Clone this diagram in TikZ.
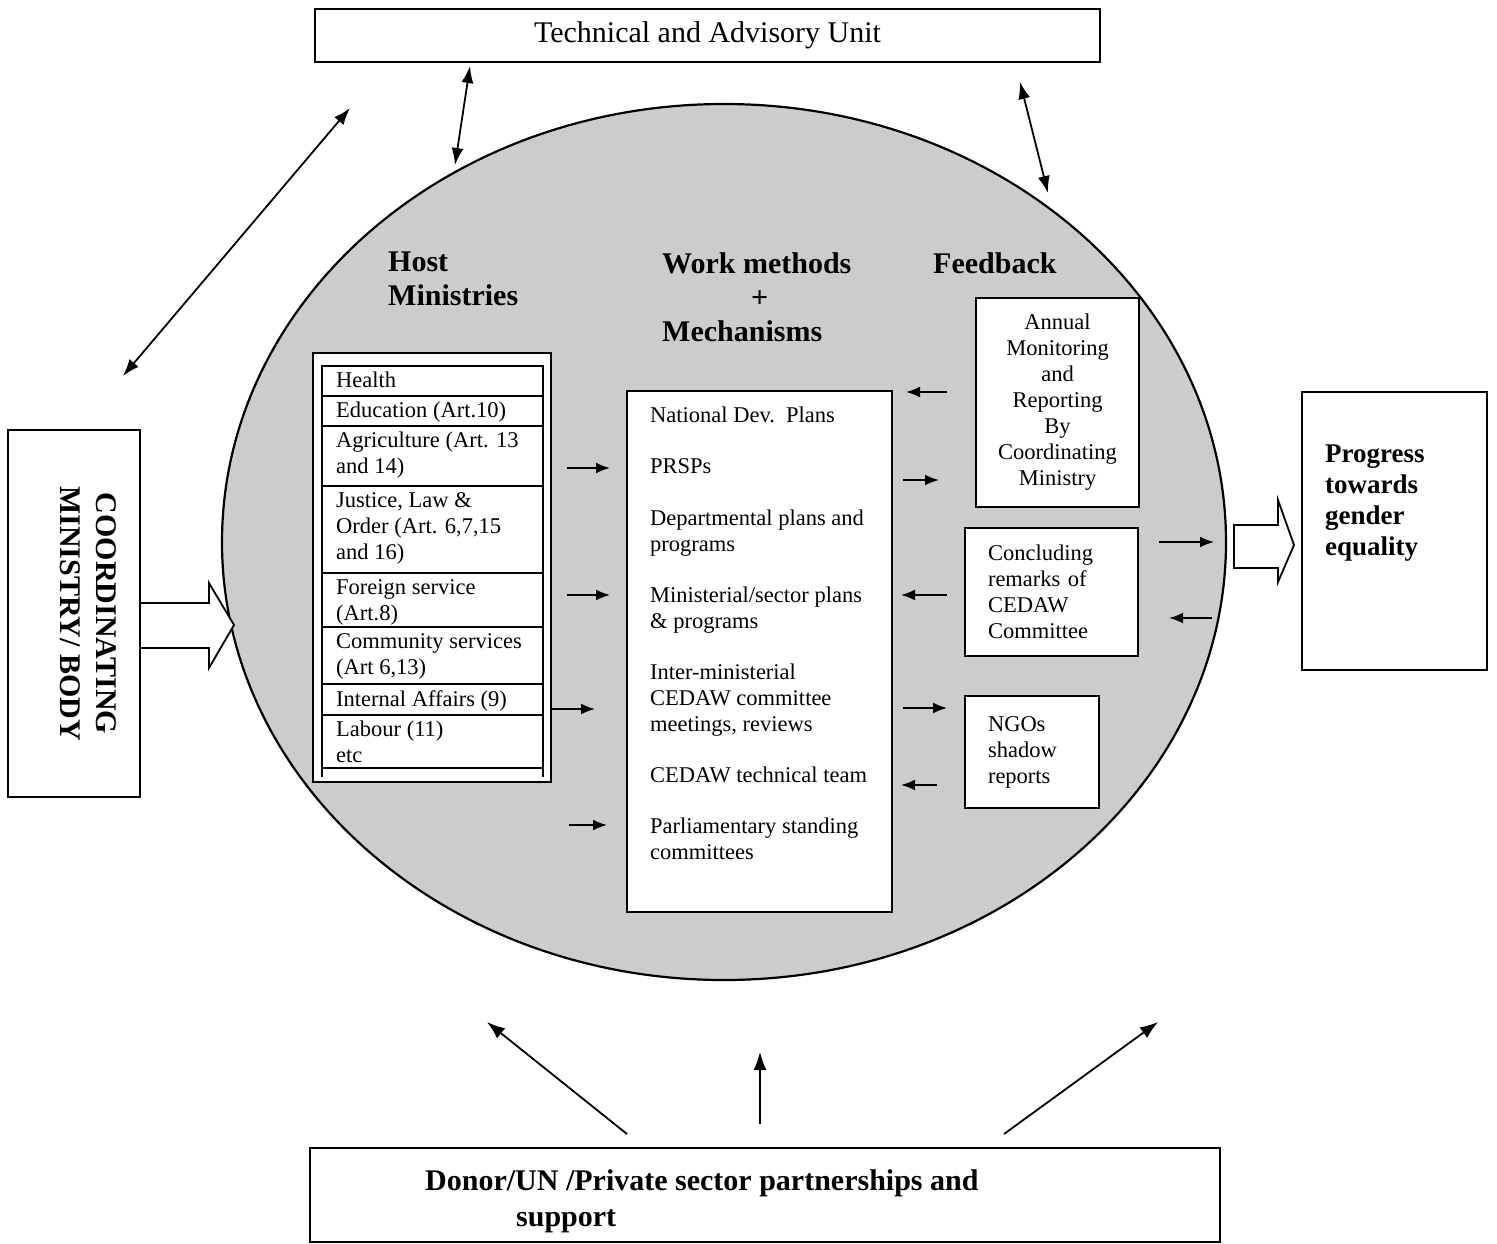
\documentclass[tikz,border=0pt]{standalone}
\usepackage{fontspec}
\setmainfont{Liberation Serif}
\usetikzlibrary{positioning}
\usetikzlibrary{shapes.geometric}
\usetikzlibrary{arrows.meta}

\begin{document}
\begin{tikzpicture}[x=1pt,y=-1pt,
		box/.style={draw, line width=2pt, fill=white, inner sep=0pt},
		body/.style={font=\fontsize{22.5}{26}\selectfont},
		heading/.style={font=\fontsize{30}{34}\selectfont\bfseries, inner sep=0pt, align=left},
		bigtext/.style={font=\fontsize{27}{31}\selectfont\bfseries, inner sep=0pt, align=left},
		sarrow/.style={-{Latex[length=14pt,width=11pt]}, line width=1.8pt},
		larrow/.style={-{Latex[length=18pt,width=13pt]}, line width=1.8pt},
		darrow/.style={{Latex[length=17pt,width=12pt]}-{Latex[length=17pt,width=12pt]}, line width=1.8pt},
		fatarrow/.style={draw, line width=1.8pt, fill=white},
		rowtext/.style={body, anchor=north west, inner sep=0pt, align=left}]
		\useasboundingbox (0,0) rectangle (1497,1243);
		
		% the big oval
		\node[draw, ellipse, line width=2.2pt, fill=black!20, minimum width=1004, minimum height=876] (oval) at (724,542) {};
		
		% outer boxes
		\node[box, minimum width=785, minimum height=53, font=\fontsize{30}{34}\selectfont] (tau) at (707.5,35.5) {Technical and Advisory Unit};
		\node[box, minimum width=132, minimum height=367] (coord) at (74,613.5) {};
		\node[rotate=-90, font=\fontsize{30}{36}\selectfont\bfseries, align=center] (coordtxt) at ([xshift=14]coord.center) {COORDINATING\\MINISTRY/ BODY};
		\node[box, minimum width=185, minimum height=278] (prog) at (1394.5,531) {};
		\node[bigtext, anchor=north west] (progtxt) at (1325,445) {Progress\\towards\\gender\\equality};
		\node[box, minimum width=910, minimum height=94] (donor) at (765,1195) {};
		\node[bigtext, anchor=north west, font=\fontsize{30}{36}\selectfont\bfseries] (donortxt) at (425,1169) {Donor/UN /Private sector partnerships and\\\hspace*{91pt}support};
		
		% headings
		\node[heading, anchor=north west] (hosthd) at (388,252) {Host\\Ministries};
		\node[heading, anchor=north west] (methhd) at (662,252) {Work methods\\\hspace*{89pt}+\\Mechanisms};
		\node[heading, anchor=north west] (feedhd) at (933,252) {Feedback};
		
		% host ministries
		\node[box, minimum width=238, minimum height=429] (hostlist) at (432,567.5) {};
		\foreach \ya/\yb/\txt [count=\i] in {366/396/Health, 396/426/{Education (Art.10)},
			426/486/{Agriculture (Art. 13\\and 14)}, 486/573/{Justice, Law \&\\Order (Art. 6,7,15\\and 16)},
			573/627/{Foreign service\\(Art.8)}, 627/684/{Community services\\(Art 6,13)},
			684/715/{Internal Affairs (9)}, 715/768/{Labour (11)\\etc}} {
			\draw[line width=1.6pt] (322,\ya) rectangle (543,\yb);
			\node[rowtext] (min\i) at (336,\ya+6) {\txt};
		}
		\draw[line width=1.6pt] (322,768) -- (322,777) (543,768) -- (543,777);
		
		% work methods
		\node[box, minimum width=265, minimum height=521] (meth) at (759.5,651.5) {};
		\node[rowtext] (methtxt) at (650,407) {National Dev.\ \ Plans\\[25pt]PRSPs\\[26pt]Departmental plans and\\programs\\[25pt]%
			Ministerial/sector plans\\\& programs\\[25pt]Inter-ministerial\\CEDAW committee\\meetings, reviews\\[25pt]%
			CEDAW technical team\\[25pt]Parliamentary standing\\committees};
		
		% feedback boxes
		\node[box, body, minimum width=163, minimum height=209, text width=150, align=center] (annual) at (1057.5,402.5) {Annual\\Monitoring\\and\\Reporting\\By\\Coordinating\\Ministry};
		\node[box, body, minimum width=173, minimum height=128, inner xsep=23pt, text width=127, align=left] (concl) at (1051.5,592) {Concluding\\remarks of\\CEDAW\\Committee};
		\node[box, body, minimum width=134, minimum height=112, inner xsep=23pt, text width=88, align=left] (ngo) at (1032,752) {NGOs\\shadow\\reports};
		
		% fat arrows
		\draw[fatarrow] ([yshift=10.5]coord.east) -- ++(68,0) -- ++(0,-20) -- ++(25,42) -- ++(-25,43) -- ++(0,-20) -- ++(-68,0);
		\draw[fatarrow] ([xshift=-67,yshift=6]prog.west) -- ++(44,0) -- ++(0,-25) -- ++(16,45) -- ++(-16,37) -- ++(0,-14) -- ++(-44,0) -- cycle;
		
		% ministries to methods
		\draw[sarrow, shorten <=15, shorten >=16] (hostlist.east |- 0,468) -- (meth.west |- 0,468);
		\draw[sarrow, shorten <=15, shorten >=16] (hostlist.east |- 0,595) -- (meth.west |- 0,595);
		\draw[sarrow, shorten >=31] (hostlist.east |- 0,709) -- (meth.west |- 0,709);
		\draw[sarrow, shorten <=17, shorten >=19] (hostlist.east |- 0,825) -- (meth.west |- 0,825);
		
		% methods and feedback
		\draw[sarrow, shorten <=28, shorten >=13] (annual.west |- 0,392) -- (meth.east |- 0,392);
		\draw[sarrow, shorten <=10, shorten >=36] (meth.east |- 0,480) -- (annual.west |- 0,480);
		\draw[sarrow, shorten <=17, shorten >=8] (concl.west |- 0,595) -- (meth.east |- 0,595);
		\draw[sarrow, shorten <=10, shorten >=17] (meth.east |- 0,708) -- (ngo.west |- 0,708);
		\draw[sarrow, shorten <=27, shorten >=8] (ngo.west |- 0,785) -- (meth.east |- 0,785);
		\draw[sarrow, shorten <=20, shorten >=87] (concl.east |- 0,542) -- (prog.west |- 0,542);
		\draw[sarrow, shorten <=89, shorten >=30] (prog.west |- 0,618) -- (concl.east |- 0,618);
		
		% top links
		\coordinate (c1) at (123,376);
		\coordinate (c2) at (350,108);
		\coordinate (t1) at (470,66);
		\coordinate (t2) at (455,165);
		\coordinate (f1) at (1020,82);
		\coordinate (f2) at (1048,193);
		\draw[darrow] (c1) -- (c2);
		\draw[darrow] (t1) -- (t2);
		\draw[darrow] (f1) -- (f2);
		
		% support links
		\draw[larrow] ([xshift=-138,yshift=13]donor.north) -- (487,1022);
		\draw[larrow] ([xshift=-5,yshift=23]donor.north) -- (760,1052);
		\draw[larrow] ([xshift=239,yshift=13]donor.north) -- (1158,1022);
	\end{tikzpicture}
\end{document}
